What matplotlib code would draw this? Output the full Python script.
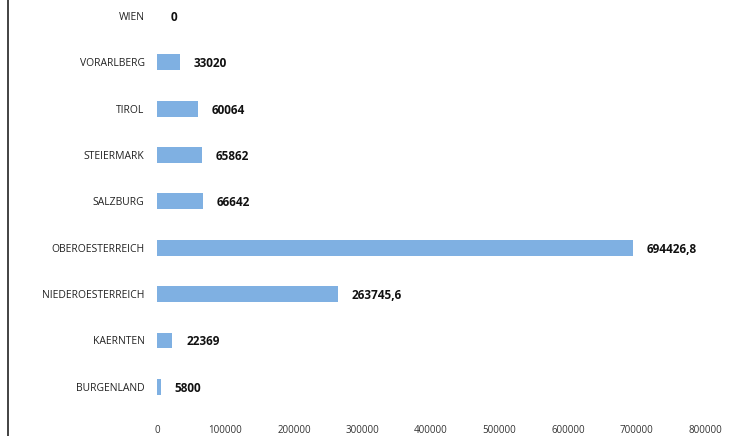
import matplotlib
matplotlib.use("Agg")
import matplotlib.pyplot as plt
from matplotlib.lines import Line2D

categories = ["BURGENLAND", "KAERNTEN", "NIEDEROESTERREICH", "OBEROESTERREICH",
              "SALZBURG", "STEIERMARK", "TIROL", "VORARLBERG", "WIEN"]
values = [5800, 22369, 263745.6, 694426.8, 66642, 65862, 60064, 33020, 0]
xticks = [0, 100000, 200000, 300000, 400000, 500000, 600000, 700000, 800000]

def fmt(v):
    if float(v).is_integer():
        return str(int(v))
    return ("%.1f" % v).replace(".", ",")

plt.rcParams['font.family'] = ['Open Sans', 'DejaVu Sans']

fig = plt.figure(figsize=(7.32, 4.36), dpi=100)
ax = fig.add_axes([157/732, 1 - 410/436, (705 - 157)/732, (410 - 2)/436])

ypos = list(range(len(categories)))
ax.barh(ypos, values, height=0.34, color="#7fb0e2")
ax.set_xlim(0, 800000)
ax.set_ylim(-0.5, 8.3)

for y, v in zip(ypos, values):
    ax.annotate(fmt(v), xy=(v, y), xytext=(10, -1), textcoords="offset points",
                ha="left", va="center", fontsize=8.5, fontweight="bold", color="#111111")

ax.set_yticks(ypos)
ax.set_yticklabels(categories, fontsize=7.5, color="#222222")
ax.set_xticks(xticks)
ax.set_xticklabels([str(t) for t in xticks], fontsize=7, color="#333333")
ax.tick_params(axis="y", length=0, pad=9)
ax.tick_params(axis="x", length=0, pad=11)
for s in ax.spines.values():
    s.set_visible(False)

# scanned page edge line on the left
fig.add_artist(Line2D([8/732, 8/732], [0, 1], transform=fig.transFigure,
                      color="#222222", linewidth=1.2))

fig.savefig("out.png", dpi=100, facecolor="white")
